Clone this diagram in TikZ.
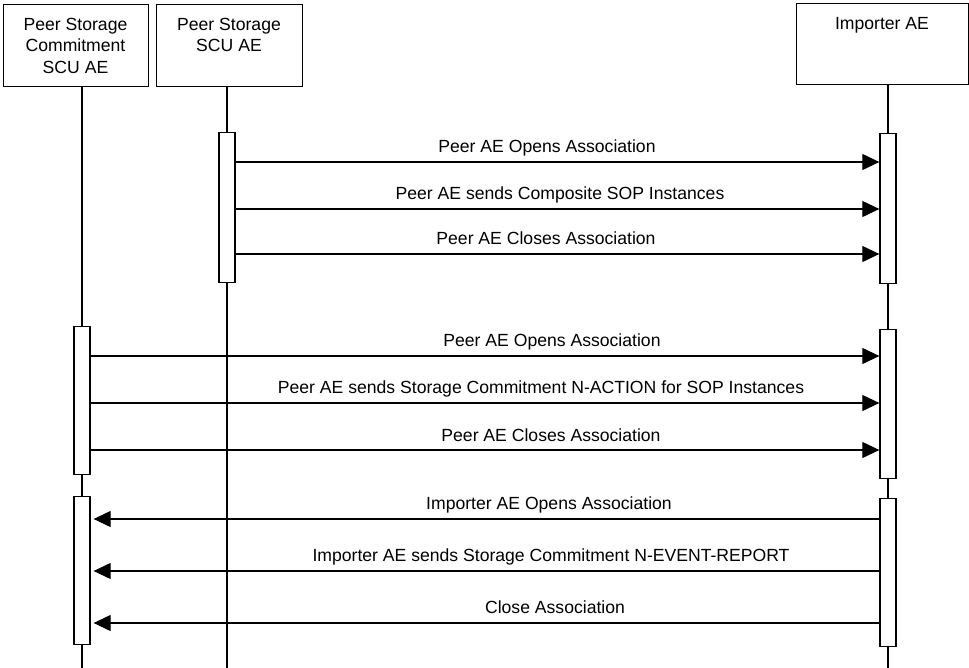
\documentclass[tikz,border=0pt]{standalone}
\usepackage{fontspec}
\setmainfont{Liberation Sans}
\usetikzlibrary{arrows.meta}
\newcommand{\dgfont}{\fontsize{17.6}{21.5}\selectfont}
\begin{document}
\begin{tikzpicture}[x=1pt,y=-1pt,
  actor/.style={draw, line width=1.3pt, inner sep=0pt, anchor=north west},
  atext/.style={anchor=north, align=center, inner sep=0pt, font=\dgfont},
  life/.style={line width=1.1pt},
  actbar/.style={draw, fill=white, line width=1.3pt, minimum width=16pt, inner sep=0pt, anchor=north},
  msg/.style={line width=1.1pt, -{Triangle[length=17pt,width=16pt]}},
  lbl/.style={anchor=base, inner sep=0pt, font=\dgfont}]
\useasboundingbox (0,0) rectangle (969,667);
% actors
\node[actor, minimum width=145pt, minimum height=82pt] (A) at (3,4) {};
\node[actor, minimum width=146pt, minimum height=82pt] (B) at (156,4) {};
\node[actor, minimum width=172pt, minimum height=81pt] (C) at (796,3) {};
\node[atext] (At) at (75.5,18) {Peer Storage\\Commitment\\SCU AE};
\node[atext] (Bt) at (229,18) {Peer Storage\\SCU AE};
\node[atext] (Ct) at (882,17) {Importer AE};
% lifelines
\coordinate (Aend) at (82,668);
\coordinate (Bend) at (227,668);
\coordinate (Cend) at (888,668);
\draw[life] (A.south -| Aend) -- (Aend);
\draw[life] (B.south -| Bend) -- (Bend);
\draw[life] (C.south -| Cend) -- (Cend);
% activation bars
\node[actbar, minimum height=150pt] (B1) at (227,132) {};
\node[actbar, minimum height=150pt] (C1) at (888,133) {};
\node[actbar, minimum height=149pt] (C2) at (888,329) {};
\node[actbar, minimum height=148pt] (C3) at (888,498) {};
\node[actbar, minimum height=148pt] (A1) at (82,326) {};
\node[actbar, minimum height=148pt] (A2) at (82,496) {};
% message rows
\coordinate (m1) at (0,162);
\coordinate (m2) at (0,209);
\coordinate (m3) at (0,254);
\coordinate (m4) at (0,356);
\coordinate (m5) at (0,403);
\coordinate (m6) at (0,450);
\coordinate (m7) at (0,519);
\coordinate (m8) at (0,571);
\coordinate (m9) at (0,623);
\draw[msg] (B1.east |- m1) -- (C1.west |- m1);
\draw[msg] (B1.east |- m2) -- (C1.west |- m2);
\draw[msg] (B1.east |- m3) -- (C1.west |- m3);
\draw[msg] (A1.east |- m4) -- (C2.west |- m4);
\draw[msg] (A1.east |- m5) -- (C2.west |- m5);
\draw[msg] (A1.east |- m6) -- (C2.west |- m6);
\draw[msg, shorten >=3pt] (C3.west |- m7) -- (A2.east |- m7);
\draw[msg, shorten >=3pt] (C3.west |- m8) -- (A2.east |- m8);
\draw[msg, shorten >=3pt] (C3.west |- m9) -- (A2.east |- m9);
% labels
\node[lbl] (l1) at (547,152) {Peer AE Opens Association};
\node[lbl] (l2) at (560,199) {Peer AE sends Composite SOP Instances};
\node[lbl] (l3) at (546,244) {Peer AE Closes Association};
\node[lbl] (l4) at (552,346) {Peer AE Opens Association};
\node[lbl] (l5) at (541,393) {Peer AE sends Storage Commitment N-ACTION for SOP Instances};
\node[lbl] (l6) at (551,441) {Peer AE Closes Association};
\node[lbl] (l7) at (549,509) {Importer AE Opens Association};
\node[lbl] (l8) at (551,561) {Importer AE sends Storage Commitment N-EVENT-REPORT};
\node[lbl] (l9) at (555,613) {Close Association};
\end{tikzpicture}
\end{document}
